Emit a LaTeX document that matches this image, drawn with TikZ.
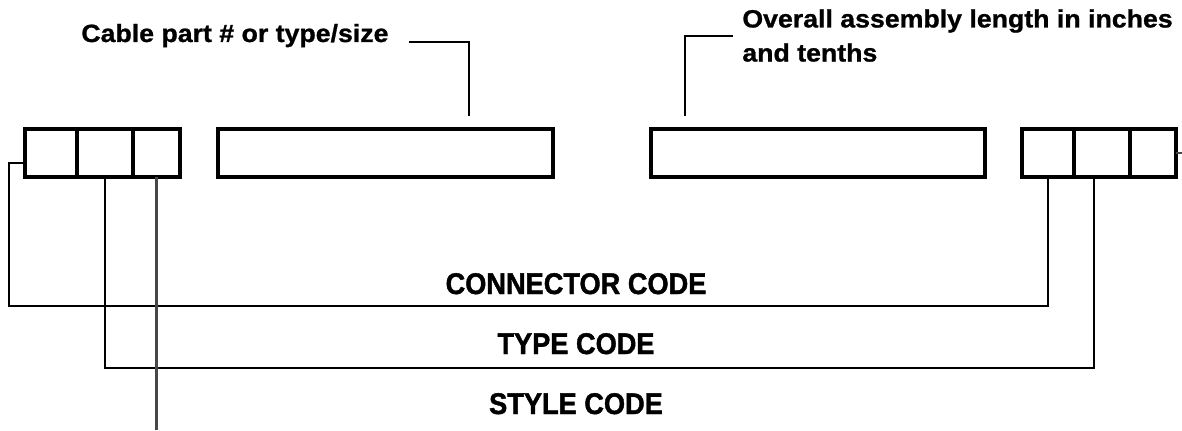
\documentclass[tikz,border=0pt]{standalone}
\usepackage{fontspec}
\setmainfont{Liberation Sans}
\newfontfamily\notefont{Liberation Sans}[FakeStretch=1.07, FakeBold=1]
\newfontfamily\codefont{Liberation Sans}[FakeStretch=0.91, FakeBold=1.4]
\usetikzlibrary{positioning}

\begin{document}
\begin{tikzpicture}[
    node distance=0pt,
    cell/.style={rectangle, draw, line width=1.8pt, inner sep=0pt, outer sep=0pt,
                 minimum height=0.96cm},
    note/.style={font=\notefont\fontsize{14.2}{19.4}\selectfont\bfseries, inner sep=0pt},
    code/.style={font=\codefont\fontsize{17}{19.4}\selectfont\bfseries, inner sep=0pt},
    link/.style={line width=1.1pt},
    faint/.style={line width=1.2pt, color=black!72}
  ]
    \useasboundingbox (0,0) rectangle (23.64,-8.6);

    \node[cell, minimum width=1.04cm] (l1) at (1.02,-3.06) {};
    \node[cell, minimum width=1.12cm, right=of l1] (l2) {};
    \node[cell, minimum width=0.94cm, right=of l2] (l3) {};
    \node[cell, minimum width=6.7cm, right=0.76cm of l3] (cable) {};
    \node[cell, minimum width=6.68cm, right=1.96cm of cable] (len) {};
    \node[cell, minimum width=1.04cm, right=0.74cm of len] (r1) {};
    \node[cell, minimum width=1.12cm, right=of r1] (r2) {};
    \node[cell, minimum width=0.92cm, right=of r2] (r3) {};

    \node[note, anchor=base west] (cabtxt) at (1.62,-0.84) {Cable part \# or type/size};
    \node[note, anchor=north west, align=left] (lentxt) at (14.84,-0.18)
        {Overall assembly length in inches\\and tenths};
    \node[code, anchor=base] (conntxt) at (11.52,-5.88) {CONNECTOR CODE};
    \node[code, anchor=base] (typetxt) at (11.52,-7.08) {TYPE CODE};
    \node[code, anchor=base] (styletxt) at (11.52,-8.28) {STYLE CODE};

    \coordinate (cabtip) at (9.38,-2.32);
    \coordinate (lentip) at (13.7,-2.32);
    \coordinate (bus1) at (0.18,-6.12);
    \coordinate (bus2) at (0,-7.36);
    \coordinate (foot) at (0,-8.6);
    \coordinate (edge) at (23.64,0);

    \draw[link] ([xshift=0.4cm]cabtxt.base east) -| (cabtip);
    \draw[link] (lentip) |- ([xshift=-0.18cm]lentxt.west);
    \draw[link] (r1.south) |- (bus1) |- ([yshift=-0.2cm]l1.west);
    \draw[link] (l2.south) -- (l2.south |- bus2) -| ([xshift=-0.16cm]r2.south);
    \draw[faint] (l3.south) -- (l3.south |- foot);
    \draw[faint] (r3.east) -- (r3.east -| edge);
  \end{tikzpicture}
\end{document}
